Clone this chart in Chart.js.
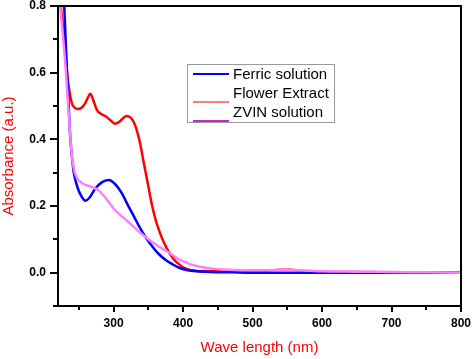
<!DOCTYPE html>
<html>
<head>
  <meta charset="UTF-8">
  <title>UV-Vis absorbance spectra</title>
  <script src="https://cdn.jsdelivr.net/npm/chart.js"></script>
  <style>
    html, body { margin: 0; padding: 0; background: #fff; }
    canvas { display: block; }
  </style>
</head>
<body>
  <canvas id="spectra" width="472" height="359"></canvas>

  <script>
    // values: wavelength (nm) and absorbance (a.u.)
    const ferricWl  = [226, 229, 233, 235, 237.5, 242, 246, 250, 255, 259.5, 265, 274, 283, 293, 302, 312, 320, 327, 336, 346, 356, 365, 375, 385, 395, 405, 420, 440, 470, 500, 600, 700, 800];
    const ferricAbs = [0.95, 0.80, 0.60, 0.52, 0.41, 0.31, 0.27, 0.245, 0.225, 0.216, 0.224, 0.253, 0.271, 0.278, 0.266, 0.238, 0.205, 0.178, 0.142, 0.107, 0.078, 0.056, 0.038, 0.025, 0.014, 0.008, 0.004, 0.002, 0.001, 0.0, 0.0, 0.0, 0.0];

    const flowerWl  = [220, 224, 229, 233, 235, 240, 244, 249, 254, 259, 263, 266.5, 270, 276, 282, 288, 295, 302, 308, 314, 319, 324, 329, 333, 338, 343, 349, 355, 361, 367, 373, 379, 386, 393, 400, 410, 420, 440, 470, 500, 520, 540, 555, 570, 600, 650, 700, 750, 800];
    const flowerAbs = [0.88, 0.80, 0.70, 0.60, 0.565, 0.508, 0.495, 0.491, 0.495, 0.508, 0.525, 0.537, 0.522, 0.488, 0.476, 0.470, 0.458, 0.447, 0.452, 0.464, 0.470, 0.466, 0.452, 0.430, 0.390, 0.335, 0.270, 0.205, 0.155, 0.118, 0.088, 0.064, 0.042, 0.027, 0.016, 0.008, 0.005, 0.004, 0.004, 0.004, 0.006, 0.009, 0.009, 0.006, 0.003, 0.002, 0.001, 0.0, 0.0];

    const zvinWl  = [220, 223, 228, 231.5, 234, 237, 240, 243, 247, 255, 260, 265, 271, 278, 290, 302, 314, 326, 336, 346, 358, 370, 381, 390, 396, 403, 411, 420, 435, 453, 475, 500, 525, 545, 565, 600, 650, 700, 750, 800];
    const zvinAbs = [0.87, 0.80, 0.69, 0.60, 0.52, 0.43, 0.35, 0.31, 0.285, 0.268, 0.263, 0.260, 0.255, 0.248, 0.220, 0.188, 0.165, 0.143, 0.124, 0.107, 0.088, 0.072, 0.059, 0.045, 0.038, 0.032, 0.025, 0.020, 0.014, 0.010, 0.008, 0.007, 0.007, 0.009, 0.007, 0.004, 0.003, 0.002, 0.001, 0.0];

    const seriesNames = ['Ferric solution', 'Flower Extract', 'ZVIN solution'];

    // axis ticks (unlabelled ones are the minor ticks)
    const xTicks = [250, 300, 350, 400, 450, 500, 550, 600, 650, 700, 750, 800];
    const xLabelled = [300, 400, 500, 600, 700, 800];
    const yTicks = [-0.1, 0.0, 0.1, 0.2, 0.3, 0.4, 0.5, 0.6, 0.7, 0.8];
    const yLabelled = [0.0, 0.2, 0.4, 0.6, 0.8];

    const FONT = '"Liberation Sans", Arial, sans-serif';
    const toPoints = (xs, ys) => xs.map((x, i) => ({ x, y: ys[i] }));
    const isLabelled = (list, v) => list.some(t => Math.abs(t - v) < 1e-6);

    // frame round the plot + major/minor tick marks
    const framePlugin = {
      id: 'frame',
      afterDraw(chart) {
        const { ctx, chartArea: a, scales } = chart;
        ctx.save();
        ctx.strokeStyle = '#000';
        ctx.lineWidth = 2;
        ctx.strokeRect(a.left, a.top, a.right - a.left, a.bottom - a.top);

        ctx.beginPath();
        xTicks.forEach(v => {
          const px = Math.round(scales.x.getPixelForValue(v));
          const len = isLabelled(xLabelled, v) ? 6 : 4;
          ctx.moveTo(px, a.bottom);
          ctx.lineTo(px, a.bottom + len);
        });
        yTicks.forEach(v => {
          const py = Math.round(scales.y.getPixelForValue(v));
          const len = isLabelled(yLabelled, v) ? 8 : 5;
          ctx.moveTo(a.left, py);
          ctx.lineTo(a.left - len, py);
        });
        ctx.stroke();
        ctx.restore();
      }
    };

    // boxed legend sitting inside the plot
    const boxLegend = {
      id: 'boxLegend',
      afterDraw(chart) {
        const { ctx } = chart;
        const box = { x: 187, y: 64, w: 147, h: 58 };
        const lineOffset = [-1, 8, 8];
        ctx.save();
        ctx.fillStyle = '#fff';
        ctx.fillRect(box.x, box.y, box.w, box.h);
        ctx.strokeStyle = '#9a9a9a';
        ctx.lineWidth = 1;
        ctx.strokeRect(box.x + 0.5, box.y + 0.5, box.w, box.h);

        ctx.font = '15px ' + FONT;
        ctx.textBaseline = 'middle';
        ctx.fillStyle = '#000';
        chart.data.datasets.forEach((ds, i) => {
          const rowY = 75 + i * 19;
          const ly = rowY + lineOffset[i];
          ctx.strokeStyle = ds.legendColor;
          ctx.lineWidth = ds.legendWidth;
          ctx.beginPath();
          ctx.moveTo(193, ly);
          ctx.lineTo(229, ly);
          ctx.stroke();
          ctx.fillText(ds.label, 233, rowY);
        });
        ctx.restore();
      }
    };

    const lineStyle = { borderWidth: 2.5, pointRadius: 0, fill: false, cubicInterpolationMode: 'monotone' };

    new Chart(document.getElementById('spectra'), {
      type: 'line',
      data: {
        datasets: [
          { label: seriesNames[0], data: toPoints(ferricWl, ferricAbs), borderColor: '#0000ff', legendColor: '#0000ff', legendWidth: 2, order: 2, ...lineStyle },
          { label: seriesNames[1], data: toPoints(flowerWl, flowerAbs), borderColor: '#ff0000', legendColor: '#ff5050', legendWidth: 1.5, order: 3, ...lineStyle },
          { label: seriesNames[2], data: toPoints(zvinWl, zvinAbs), borderColor: '#ff80ff', legendColor: '#c828c8', legendWidth: 2, order: 1, ...lineStyle }
        ]
      },
      options: {
        responsive: false,
        animation: false,
        layout: { padding: { top: 6, right: 11, bottom: 0, left: 0 } },
        plugins: { legend: { display: false }, tooltip: { enabled: false } },
        scales: {
          x: {
            type: 'linear',
            min: 220,
            max: 800,
            grid: { display: false, drawTicks: false },
            border: { display: false },
            afterBuildTicks: s => { s.ticks = xTicks.map(v => ({ value: v })); },
            afterFit: s => { s.height = 53; s.paddingLeft = 0; s.paddingRight = 0; },
            ticks: {
              padding: 10,
              maxRotation: 0,
              autoSkip: false,
              color: '#000',
              font: { family: FONT, size: 12, weight: 'bold' },
              callback: v => isLabelled(xLabelled, v) ? String(v) : ''
            },
            title: {
              display: true,
              text: 'Wave length (nm)',
              color: '#ff0000',
              font: { family: FONT, size: 15 },
              padding: { top: 0, bottom: 2 }
            }
          },
          y: {
            min: -0.1,
            max: 0.8,
            grid: { display: false, drawTicks: false },
            border: { display: false },
            afterBuildTicks: s => { s.ticks = yTicks.map(v => ({ value: v })); },
            afterFit: s => { s.width = 58; s.paddingTop = 0; s.paddingBottom = 0; },
            ticks: {
              padding: 12,
              autoSkip: false,
              color: '#000',
              font: { family: FONT, size: 12, weight: 'bold' },
              callback: v => isLabelled(yLabelled, v) ? v.toFixed(1) : ''
            },
            title: {
              display: true,
              text: 'Absorbance (a.u.)',
              color: '#ff0000',
              font: { family: FONT, size: 15 },
              padding: { top: 0, bottom: 0 }
            }
          }
        }
      },
      plugins: [framePlugin, boxLegend]
    });
  </script>
</body>
</html>
